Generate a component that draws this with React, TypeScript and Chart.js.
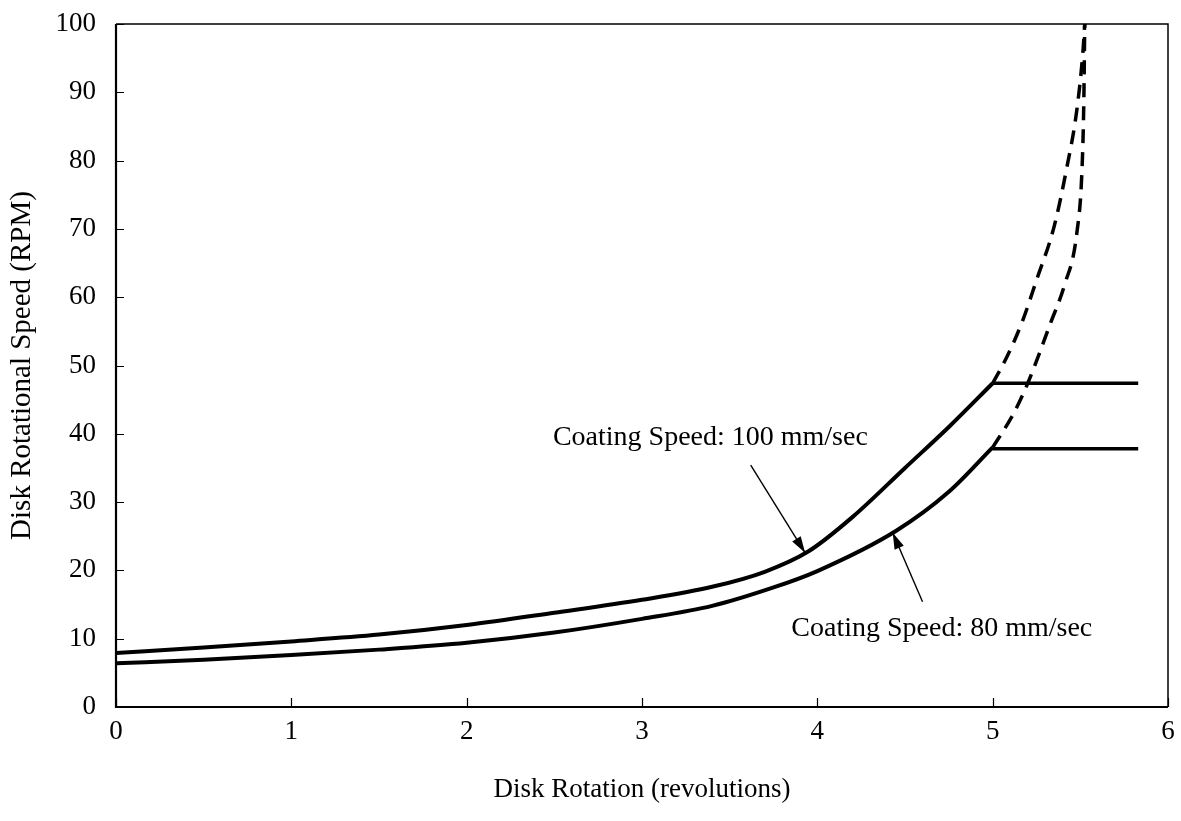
import React, { useEffect, useRef } from "react";
import { Chart, registerables } from "chart.js";

Chart.register(...registerables);

// Curve: Coating Speed 100 mm/sec (solid part)
const xUpper = [0, 0.5, 1, 1.5, 2, 2.5, 3, 3.4, 3.7, 3.95, 4.2, 4.5, 4.75, 5.0];
const yUpper = [7.9, 8.7, 9.6, 10.6, 12.0, 13.8, 15.7, 17.6, 19.8, 22.8, 27.8, 35.0, 41.0, 47.4];
// Curve: Coating Speed 80 mm/sec (solid part)
const xLower = [0, 0.5, 1, 1.5, 2, 2.5, 3, 3.4, 3.75, 4.0, 4.45, 4.75, 5.0];
const yLower = [6.4, 6.9, 7.6, 8.4, 9.4, 10.9, 12.9, 14.8, 17.5, 19.9, 25.8, 31.5, 38.0];
// Plateaus
const xPlateau = [5.0, 5.83];
const yPlateauUpper = [47.4, 47.4];
const yPlateauLower = [37.8, 37.8];
// Dashed extrapolations
const xDashUpper = [5.0, 5.08, 5.17, 5.25, 5.35, 5.42, 5.48, 5.515, 5.525];
const yDashUpper = [47.4, 51.2, 56.5, 62.5, 70.3, 78.6, 87.4, 96, 100];
const xDashLower = [5.0, 5.12, 5.2, 5.33, 5.41, 5.48, 5.51, 5.52, 5.525];
const yDashLower = [38, 43, 47.4, 56.2, 61.8, 69.4, 79, 88.9, 100];

const xTicks = [0, 1, 2, 3, 4, 5, 6];
const yTicks = [0, 10, 20, 30, 40, 50, 60, 70, 80, 90, 100];

const labelUpper = "Coating Speed: 100 mm/sec";
const labelLower = "Coating Speed: 80 mm/sec";

const FONT = "'Liberation Serif', 'Times New Roman', serif";

const pts = (xs: number[], ys: number[]) => xs.map((x, i) => ({ x, y: ys[i] }));

const framePlugin = {
  id: "frame",
  afterDatasetsDraw(chart: any) {
    const { ctx, chartArea: a, scales } = chart;
    const xs = scales.x;
    const ys = scales.y;
    ctx.save();
    ctx.strokeStyle = "#000";
    ctx.lineWidth = 1.5;
    ctx.beginPath();
    ctx.moveTo(a.left, a.top);
    ctx.lineTo(a.right, a.top);
    ctx.lineTo(a.right, a.bottom);
    ctx.stroke();
    ctx.lineWidth = 2.2;
    ctx.beginPath();
    ctx.moveTo(a.left, a.top);
    ctx.lineTo(a.left, a.bottom);
    ctx.lineTo(a.right, a.bottom);
    ctx.stroke();
    ctx.lineWidth = 1.2;
    ctx.beginPath();
    yTicks.forEach((v) => {
      const py = Math.round(ys.getPixelForValue(v)) + 0.5;
      ctx.moveTo(a.left, py);
      ctx.lineTo(a.left + 8, py);
    });
    xTicks.forEach((v) => {
      const px = Math.round(xs.getPixelForValue(v)) + 0.5;
      ctx.moveTo(px, a.bottom);
      ctx.lineTo(px, a.bottom - 9);
    });
    ctx.stroke();

    const arrow = (x1: number, y1: number, x2: number, y2: number) => {
      const p1x = xs.getPixelForValue(x1);
      const p1y = ys.getPixelForValue(y1);
      const p2x = xs.getPixelForValue(x2);
      const p2y = ys.getPixelForValue(y2);
      ctx.lineWidth = 1.4;
      ctx.beginPath();
      ctx.moveTo(p1x, p1y);
      ctx.lineTo(p2x, p2y);
      ctx.stroke();
      const ang = Math.atan2(p2y - p1y, p2x - p1x);
      const len = 17;
      const w = 0.3;
      ctx.beginPath();
      ctx.moveTo(p2x, p2y);
      ctx.lineTo(p2x - len * Math.cos(ang - w), p2y - len * Math.sin(ang - w));
      ctx.lineTo(p2x - len * Math.cos(ang + w), p2y - len * Math.sin(ang + w));
      ctx.closePath();
      ctx.fillStyle = "#000";
      ctx.fill();
    };
    arrow(3.62, 35.4, 3.93, 22.6);
    arrow(4.6, 15.4, 4.43, 25.5);

    ctx.fillStyle = "#000";
    ctx.font = `28px ${FONT}`;
    ctx.textAlign = "center";
    ctx.textBaseline = "middle";
    ctx.fillText(labelUpper, xs.getPixelForValue(3.39), ys.getPixelForValue(39.5));
    ctx.fillText(labelLower, xs.getPixelForValue(4.71), ys.getPixelForValue(11.4));
    ctx.restore();
  },
};

export default function App() {
  const ref = useRef<HTMLCanvasElement>(null);
  useEffect(() => {
    document.body.style.margin = "0";
    const solid = {
      borderColor: "#000",
      borderWidth: 4,
      pointRadius: 0,
      showLine: true,
      fill: false,
      cubicInterpolationMode: "monotone" as const,
    };
    const dashed = { ...solid, borderWidth: 3.5, borderDash: [14, 9] };
    const chart = new Chart(ref.current!, {
      type: "scatter",
      data: {
        datasets: [
          { ...solid, data: pts(xUpper, yUpper) },
          { ...solid, data: pts(xLower, yLower) },
          { ...solid, borderWidth: 3.5, data: pts(xPlateau, yPlateauUpper) },
          { ...solid, borderWidth: 3.5, data: pts(xPlateau, yPlateauLower) },
          { ...dashed, data: pts(xDashUpper, yDashUpper) },
          { ...dashed, data: pts(xDashLower, yDashLower) },
        ],
      },
      options: {
        animation: false,
        responsive: false,
        layout: { padding: { top: 24, right: 13, left: 0, bottom: 0 } },
        plugins: { legend: { display: false }, tooltip: { enabled: false } },
        scales: {
          x: {
            type: "linear",
            min: 0,
            max: 6,
            afterFit: (s: any) => {
              s.height = 114;
              s.paddingLeft = 0;
              s.paddingRight = 0;
            },
            afterBuildTicks: (s: any) => {
              s.ticks = xTicks.map((v) => ({ value: v }));
            },
            grid: { display: false, drawTicks: false },
            border: { display: false },
            ticks: {
              color: "#000",
              font: { family: FONT, size: 27 },
              padding: 9,
            },
            title: {
              display: true,
              text: "Disk Rotation (revolutions)",
              color: "#000",
              font: { family: FONT, size: 27 },
              padding: { top: 20, bottom: 15 },
            },
          },
          y: {
            type: "linear",
            min: 0,
            max: 100,
            afterFit: (s: any) => {
              s.width = 116;
              s.paddingTop = 0;
              s.paddingBottom = 0;
            },
            afterBuildTicks: (s: any) => {
              s.ticks = yTicks.map((v) => ({ value: v }));
            },
            grid: { display: false, drawTicks: false },
            border: { display: false },
            ticks: {
              color: "#000",
              font: { family: FONT, size: 27 },
              padding: 20,
            },
            title: {
              display: true,
              text: "Disk Rotational Speed (RPM)",
              color: "#000",
              font: { family: FONT, size: 29 },
              padding: { top: 5, bottom: 0 },
            },
          },
        },
      },
      plugins: [framePlugin],
    });
    return () => chart.destroy();
  }, []);
  return (
    <div style={{ width: 1181, height: 821, background: "#fff" }}>
      <canvas ref={ref} width={1181} height={821} style={{ display: "block" }} />
    </div>
  );
}
